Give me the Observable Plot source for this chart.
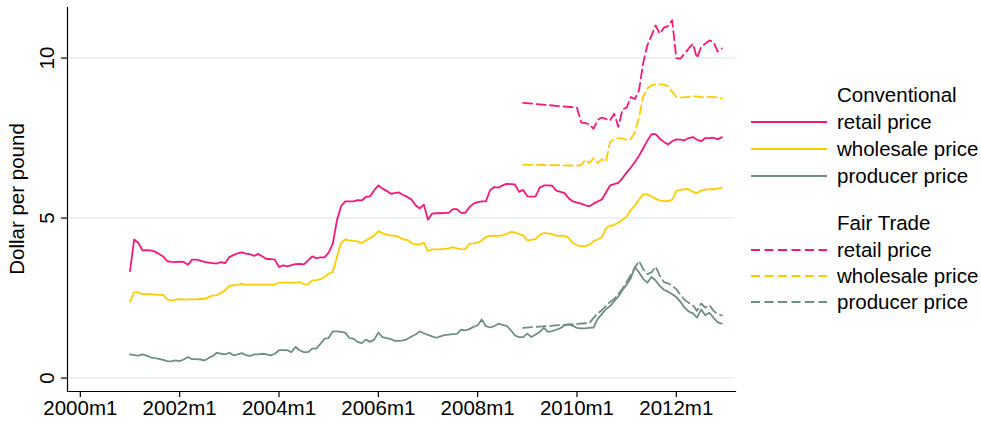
<!DOCTYPE html>
<html><head><meta charset="utf-8">
<script src="https://cdn.jsdelivr.net/npm/d3@7"></script>
<script src="https://cdn.jsdelivr.net/npm/@observablehq/plot@0.6"></script>
<style>html,body{margin:0;padding:0;background:#fff}svg{display:block}</style>
</head><body><div id="chart"></div>
<script>
// ---- data (Dollar per pound, monthly) ----
const convStart = "2001m1";   // conventional series: 2001m1 .. 2012m12
const ftStart = "2008m12";    // Fair Trade series: 2008m12 .. 2012m12 (null = no observation)

const convRetail = [
  3.34,4.33,4.23,3.99,4.00,3.99,3.95,3.88,3.80,3.65,3.63,3.62,
  3.64,3.63,3.54,3.70,3.70,3.67,3.63,3.61,3.59,3.58,3.62,3.59,
  3.78,3.84,3.90,3.93,3.89,3.87,3.82,3.88,3.80,3.72,3.72,3.70,
  3.47,3.52,3.49,3.53,3.56,3.57,3.55,3.67,3.80,3.75,3.77,3.77,
  3.92,4.20,4.93,5.37,5.52,5.52,5.52,5.56,5.55,5.66,5.68,5.87,
  6.02,5.92,5.85,5.76,5.78,5.80,5.72,5.66,5.58,5.40,5.30,5.42,
  4.95,5.14,5.15,5.15,5.16,5.16,5.28,5.28,5.16,5.16,5.34,5.45,
  5.50,5.52,5.52,5.87,5.97,5.95,6.02,6.07,6.06,6.05,5.82,5.88,
  5.68,5.67,5.68,5.95,6.02,6.02,6.01,5.86,5.82,5.78,5.62,5.52,
  5.48,5.45,5.40,5.37,5.45,5.52,5.58,5.80,6.02,6.06,6.10,6.25,
  6.42,6.58,6.75,6.95,7.18,7.42,7.62,7.62,7.48,7.38,7.30,7.40,
  7.46,7.45,7.43,7.50,7.53,7.45,7.40,7.50,7.50,7.51,7.46,7.53
];
const convWholesale = [
  2.38,2.68,2.68,2.62,2.62,2.62,2.61,2.60,2.60,2.46,2.43,2.45,
  2.47,2.45,2.46,2.46,2.46,2.47,2.47,2.53,2.58,2.59,2.67,2.74,
  2.88,2.90,2.91,2.95,2.91,2.92,2.92,2.92,2.92,2.92,2.92,2.92,
  2.98,2.98,2.98,2.98,2.98,3.00,2.93,2.93,3.05,3.06,3.09,3.16,
  3.26,3.32,3.78,4.22,4.33,4.30,4.29,4.27,4.22,4.30,4.38,4.45,
  4.59,4.53,4.48,4.45,4.45,4.41,4.33,4.32,4.22,4.18,4.18,4.23,
  3.97,4.02,4.02,4.02,4.04,4.05,4.09,4.05,4.03,4.02,4.20,4.21,
  4.23,4.30,4.41,4.44,4.45,4.44,4.46,4.50,4.57,4.55,4.50,4.46,
  4.30,4.32,4.34,4.48,4.53,4.52,4.50,4.45,4.44,4.45,4.38,4.22,
  4.15,4.12,4.12,4.17,4.28,4.33,4.40,4.68,4.76,4.78,4.86,4.95,
  5.05,5.25,5.40,5.58,5.75,5.74,5.68,5.60,5.55,5.53,5.53,5.57,
  5.84,5.88,5.90,5.90,5.82,5.78,5.86,5.89,5.90,5.90,5.92,5.95
];
const convProducer = [
  0.74,0.72,0.70,0.74,0.70,0.65,0.62,0.60,0.57,0.53,0.52,0.55,
  0.53,0.58,0.66,0.59,0.59,0.58,0.55,0.63,0.69,0.79,0.76,0.74,
  0.79,0.71,0.74,0.78,0.72,0.69,0.74,0.74,0.76,0.74,0.71,0.76,
  0.87,0.87,0.87,0.81,0.97,0.87,0.81,0.81,0.92,0.92,1.07,1.23,
  1.25,1.46,1.46,1.44,1.42,1.25,1.23,1.13,1.09,1.20,1.13,1.20,
  1.42,1.28,1.25,1.22,1.16,1.16,1.18,1.22,1.30,1.36,1.46,1.40,
  1.35,1.30,1.26,1.30,1.34,1.36,1.37,1.38,1.51,1.49,1.53,1.60,
  1.65,1.83,1.62,1.58,1.62,1.70,1.66,1.63,1.50,1.33,1.28,1.28,
  1.39,1.28,1.36,1.44,1.57,1.44,1.47,1.51,1.56,1.65,1.68,1.63,
  1.57,1.55,1.55,1.57,1.58,1.85,2.00,2.15,2.25,2.40,2.55,2.75,
  2.92,3.12,3.47,3.30,3.10,2.98,3.16,3.05,2.88,2.76,2.70,2.62,
  2.53,2.38,2.20,2.08,2.02,1.89,2.14,1.96,2.04,1.88,1.74,1.70
];
const ftRetail = [
  8.60,
  null,null,null,null,null,null,null,null,null,null,null,null,
  8.45,7.99,7.97,7.93,7.79,8.07,8.14,8.10,8.05,8.26,7.85,8.40,
  8.45,8.78,8.72,9.00,9.85,10.40,10.70,11.02,10.76,10.95,11.00,11.18,
  10.00,9.98,10.14,10.30,10.45,10.00,10.35,10.45,10.55,10.50,10.20,10.30
];
const ftWholesale = [
  6.67,
  null,null,null,null,null,null,null,null,null,null,null,null,
  6.64,6.65,6.82,6.72,6.87,6.72,6.84,6.76,7.38,7.46,7.50,7.48,
  7.44,7.47,7.68,8.15,8.80,9.05,9.15,9.18,9.18,9.17,9.12,8.95,
  8.78,8.76,8.78,8.78,8.80,8.80,8.78,8.78,8.79,8.78,8.77,8.73
];
const ftProducer = [
  1.57,
  null,null,null,null,null,null,null,null,null,null,null,null,
  null,null,null,1.72,1.88,2.02,2.12,2.25,2.38,2.47,2.62,2.80,
  3.00,3.22,3.45,3.66,3.40,3.25,3.30,3.48,3.20,3.00,2.96,2.88,
  2.78,2.60,2.45,2.35,2.28,2.10,2.33,2.20,2.28,2.10,2.00,1.96
];

const xTickLabels = ["2000m1","2002m1","2004m1","2006m1","2008m1","2010m1","2012m1"];
const yTicks = [0, 5, 10];
const yTitle = "Dollar per pound";

const legendGroups = ["Conventional", "Fair Trade"];
const legendItems = ["retail price", "wholesale price", "producer price"];
const colors = {retail: "#f5177a", wholesale: "#ffcc00", producer: "#6f8f82"};

// ---- helpers ----
const monthIndex = s => { const [y, m] = s.split("m").map(Number); return (y - 2000) * 12 + (m - 1); };
const toRows = (vals, start) => vals.map((v, i) => ({m: monthIndex(start) + i, v})).filter(d => d.v != null);
const xTickPos = xTickLabels.map(monthIndex);
const labelOf = new Map(xTickLabels.map(s => [monthIndex(s), s]));

const FONT = "'Liberation Sans', Arial, Helvetica, sans-serif";
const FS = 20.5;
const dash = "9,4.5";
const lw = 1.8;

const series = [
  {rows: toRows(convProducer, convStart), color: colors.producer, dash: null},
  {rows: toRows(convWholesale, convStart), color: colors.wholesale, dash: null},
  {rows: toRows(convRetail, convStart), color: colors.retail, dash: null},
  {rows: toRows(ftProducer, ftStart), color: colors.producer, dash},
  {rows: toRows(ftWholesale, ftStart), color: colors.wholesale, dash},
  {rows: toRows(ftRetail, ftStart), color: colors.retail, dash}
];

const plot = Plot.plot({
  width: 981, height: 425,
  marginLeft: 67, marginRight: 246, marginTop: 7, marginBottom: 34,
  style: {fontFamily: FONT, fontSize: FS + "px", color: "#000", background: "#fff", overflow: "visible"},
  x: {type: "linear", domain: [-3.1, 158.3]},
  y: {type: "linear", domain: [-0.42, 11.58]},
  marks: [
    Plot.ruleY(yTicks, {stroke: "#e5eef1", strokeWidth: 1.6}),
    ...series.map(s => Plot.line(s.rows, {x: "m", y: "v", stroke: s.color, strokeWidth: lw, strokeDasharray: s.dash, curve: "linear"})),
    Plot.frame({anchor: "left", stroke: "#000", strokeWidth: 1.2}),
    Plot.frame({anchor: "bottom", stroke: "#000", strokeWidth: 1.2}),
    Plot.axisX(xTickPos, {tickFormat: d => labelOf.get(d), tickSize: 6, tickPadding: 3, fontSize: FS, stroke: "#000", strokeWidth: 1.2, label: null}),
    Plot.axisY(yTicks, {tickSize: 6, tickPadding: 8, tickRotate: -90, fontSize: FS, stroke: "#000", strokeWidth: 1.2, label: null})
  ]
});

document.getElementById("chart").appendChild(plot);

// ---- axis title and legend ----
const svg = d3.select(plot);
svg.append("text")
  .attr("transform", "translate(24,199) rotate(-90)")
  .attr("text-anchor", "middle").attr("font-family", FONT).attr("font-size", FS).attr("fill", "#000")
  .text(yTitle);

const leg = svg.append("g").attr("font-family", FONT).attr("font-size", FS).attr("fill", "#000").attr("text-anchor", "start");
const legendRows = [
  {text: legendGroups[0], y: 95},
  {text: legendItems[0], y: 122, color: colors.retail},
  {text: legendItems[1], y: 149, color: colors.wholesale},
  {text: legendItems[2], y: 176, color: colors.producer},
  {text: legendGroups[1], y: 223},
  {text: legendItems[0], y: 250, color: colors.retail, dash},
  {text: legendItems[1], y: 276, color: colors.wholesale, dash},
  {text: legendItems[2], y: 302, color: colors.producer, dash}
];
for (const r of legendRows) {
  if (r.color) {
    leg.append("line").attr("x1", 751).attr("x2", 827).attr("y1", r.y).attr("y2", r.y)
      .attr("stroke", r.color).attr("stroke-width", lw).attr("stroke-dasharray", r.dash || null);
  }
  leg.append("text").attr("x", 837).attr("y", r.y).attr("dy", "0.36em").attr("text-anchor", "start").text(r.text);
}
</script>
</body></html>
